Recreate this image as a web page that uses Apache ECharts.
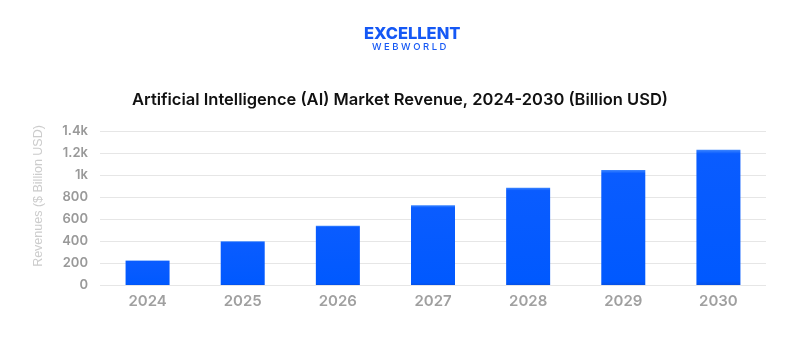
<!DOCTYPE html>
<html>
<head>
<meta charset="utf-8">
<script src="https://cdn.jsdelivr.net/npm/echarts@6/dist/echarts.min.js"></script>
<style>
  html, body { margin: 0; padding: 0; background: #fff; }
  #chart { width: 800px; height: 350px; }
</style>
</head>
<body>
<div id="chart"></div>
<script>
const years = ["2024", "2025", "2026", "2027", "2028", "2029", "2030"];
const revenue = [222, 397, 539, 724, 885, 1045, 1230];
const yTicks = ["0", "200", "400", "600", "800", "1k", "1.2k", "1.4k"];

const chart = echarts.init(document.getElementById("chart"));

chart.setOption({
  animation: false,
  backgroundColor: "#fff",
  title: {
    text: "Artificial Intelligence (AI) Market Revenue, 2024-2030 (Billion USD)",
    left: "center",
    top: 87,
    textStyle: { fontFamily: "Inter", fontSize: 16.5, fontWeight: 600, color: "#111" },
  },
  graphic: [
    {
      type: "text",
      left: 364,
      top: 26,
      style: { text: "EXCELLENT", fontFamily: "Inter", fontSize: 16.5, fontWeight: 800, fill: "#1558f5" },
    },
    {
      type: "text",
      left: 372,
      top: 42,
      style: { text: "W E B W O R L D", fontFamily: "Inter", fontSize: 9.5, fontWeight: 500, fill: "#1558f5" },
    },
  ],
  grid: { left: 100, right: 34, top: 131, bottom: 65 },
  xAxis: {
    type: "category",
    data: years,
    axisLine: { show: false },
    axisTick: { show: false },
    axisLabel: { color: "#a0a0a0", fontSize: 15, fontWeight: 600, fontFamily: "Inter", margin: 9 },
  },
  yAxis: {
    type: "value",
    min: 0,
    max: 1400,
    interval: 200,
    name: "Revenues ($ Billion USD)",
    nameLocation: "middle",
    nameGap: 55,
    nameTextStyle: { color: "#ccc", fontSize: 12.5, fontFamily: "Liberation Sans", padding: [0, 0, 0, 24] },
    axisLabel: {
      color: "#999",
      fontSize: 13,
      fontWeight: 600,
      fontFamily: "Inter",
      margin: 12,
      formatter: (v) => yTicks[v / 200],
    },
    splitLine: { lineStyle: { color: "#e6e6e6", width: 1 } },
  },
  series: [
    {
      type: "bar",
      data: revenue,
      barWidth: 44,
      itemStyle: {
        color: {
          type: "linear", x: 0, y: 0, x2: 0, y2: 1,
          colorStops: [
            { offset: 0, color: "#3d86ff" },
            { offset: 0.03, color: "#0a5cff" },
            { offset: 0.97, color: "#0059ff" },
            { offset: 1, color: "#0550e6" },
          ],
        },
      },
    },
  ],
});
</script>
</body>
</html>
